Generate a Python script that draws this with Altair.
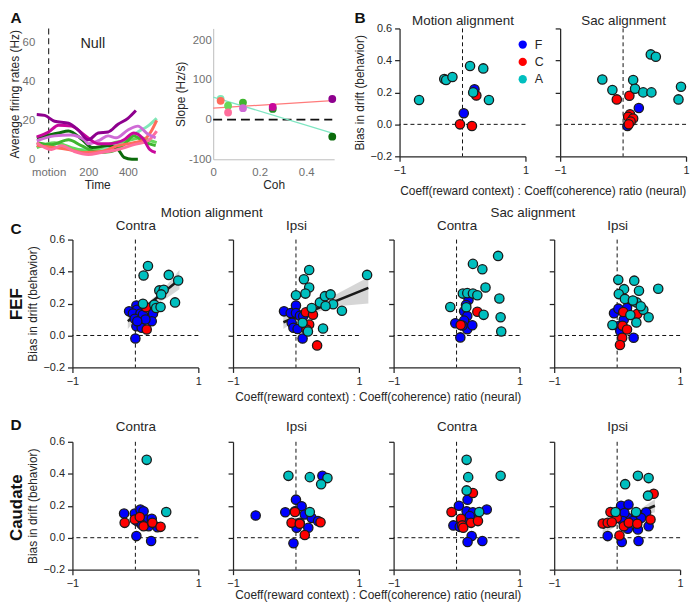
import altair as alt
import pandas as pd

FONT = "Liberation Sans"
INK = "#262626"
LBL_GRAY = "#6f6f6f"
BLUE, RED, CYAN = "#0000ff", "#ff0000", "#00bfbf"
GROUPS = ["F", "C", "A"]
GROUP_COLORS = [BLUE, RED, CYAN]
XLABEL = "Coeff(reward context) : Coeff(coherence) ratio (neural)"
YLABEL = "Bias in drift (behavior)"

PW, PH, SP = 127, 129, 35

# ---------------- Panel A : firing-rate traces (Null) ----------------
TS_KEYS = ["g1", "g2", "g3", "g5", "p1", "p2", "p3", "p4", "p5"]
TS_G1_T = [-60, 50, 150, 250, 350, 400, 450, 500, 545]
TS_G1_V = [7, 6, 5, 5, 8, 10, 14, 17, 21]
TS_G2_T = [-60, 30, 115, 200, 265, 330, 400, 465, 515, 545]
TS_G2_V = [6, 8.5, 6, 4, 6, 8.5, 9.5, 11, 9.5, 8.5]
TS_G3_T = [-60, 15, 100, 165, 250, 315, 380, 430, 480, 540]
TS_G3_V = [8.5, 7.5, 10, 7, 3.5, 4, 7.5, 12, 9, 7]
TS_G5_T = [-60, 50, 100, 170, 220, 300, 350, 380, 420, 450]
TS_G5_V = [11, 13.5, 14.5, 10, 6, 7, 5, 1, 0, 0]
TS_P1_T = [-60, 30, 100, 180, 265, 350, 430, 480, 515, 545]
TS_P1_V = [7, 6, 5, 3.5, 4, 7, 8.5, 10, 14, 20]
TS_P2_T = [-60, 15, 65, 130, 200, 265, 350, 430, 500, 545]
TS_P2_V = [8.5, 5, 7, 4, 2.5, 3.5, 5, 7.5, 9.5, 14.5]
TS_P3_T = [-60, 30, 110, 180, 200, 260, 300, 340, 400, 450, 500, 540]
TS_P3_V = [9.5, 12, 12.5, 10, 8, 10, 12, 11, 15, 17, 13, 11]
TS_P4_T = [-60, 0, 50, 115, 180, 250, 310, 380, 430, 480, 510, 540]
TS_P4_V = [11.5, 14, 17.5, 17, 12.5, 8, 8, 10, 13.5, 10, 5, 3.5]
TS_P5_T = [-60, -20, 30, 100, 150, 200, 250, 300, 350, 400, 440]
TS_P5_V = [23, 22.5, 19.5, 18.5, 15, 10, 13.5, 14, 18, 21, 25]

COH_KEYS = ["g1", "g2", "g3", "g4", "g5", "p1", "p2", "p3", "p4", "p5"]
COH_COLORS = ["#80e8b8", "#66d95a", "#3fb52f", "#238c23", "#0b6b0b",
              "#ff6b5b", "#ff6e9c", "#cf6bd6", "#c8079b", "#8e008e"]

# ---------------- Panel A : slope vs coherence ----------------
SLOPE_COH = [0.032, 0.032, 0.064, 0.064, 0.128, 0.128, 0.256, 0.256, 0.512, 0.512]
SLOPE_VAL = [52, 47.5, 35, 18, 43, 29, 27, 32, 52, -43]
SLOPE_KEY = ["g1", "p1", "g2", "p2", "g3", "p3", "g4", "p4", "p5", "g5"]
PFIT_X, PFIT_Y = [0.0, 0.512], [29, 48]
GFIT_X, GFIT_Y = [0.0, 0.512], [57, -34]

# ---------------- Panel B ----------------
B_MOT_X = [0.19, 0.02, 0.22, -0.04, 0.15, -0.69, -0.29, -0.26, -0.16, 0.12, 0.33, 0.42, 0.17]
B_MOT_Y = [0.219, 0.069, 0.18, 0.0, -0.01, 0.152, 0.283, 0.277, 0.296, 0.365, 0.35, 0.152, 0.2]
B_MOT_G = list("FFCCCAAAAAAAA")
B_SAC_X = [0.25, 0.07, -0.10, 0.10, 0.11, 0.08, 0.16, 0.12, 0.09,
           -0.33, -0.17, 0.16, 0.19, 0.32, 0.45, 0.44, 0.52, 0.92, 0.88]
B_SAC_Y = [0.102, -0.01, 0.156, 0.179, 0.0625, 0.048, 0.037, 0.017, 0.0,
           0.281, 0.215, 0.277, 0.223, 0.2, 0.2, 0.4375, 0.423, 0.235, 0.156]
B_SAC_G = list("FFCCCCCCCAAAAAAAAAA")

# ---------------- Panel C (FEF) ----------------
C1_X = [-0.10, 0.016, 0.026, -0.04, 0.08, -0.01, 0.12, 0.28, 0.26, 0.016, 0.10, 0.0, 0.16, 0.03,
        0.17, 0.18,
        0.20, 0.13, 0.53, 0.68, 0.38, 0.45, 0.41, 0.63, 0.12, 0.30, 0.33, 0.40]
C1_Y = [0.151, 0.188, 0.161, 0.137, 0.137, 0.104, 0.13, 0.137, 0.089, 0.058, 0.048, -0.019, 0.10, 0.089,
        0.176, 0.037,
        0.435, 0.375, 0.379, 0.344, 0.282, 0.286, 0.257, 0.207, 0.199, 0.193, 0.172, 0.178]
C1_G = list("FFFFFFFFFFFFFF" "CC" "AAAAAAAAAAAA")
C1_REG_X, C1_REG_Y = [-0.12, 0.70], [0.089, 0.350]
C1_BAND_X = [-0.12, 0.05, 0.2, 0.35, 0.5, 0.7]
C1_BAND_LO = [0.04, 0.115, 0.17, 0.2, 0.235, 0.29]
C1_BAND_HI = [0.135, 0.17, 0.21, 0.255, 0.315, 0.41]

C2_X = [-0.19, -0.084, 0.0, 0.0, 0.063, -0.068, -0.04, 0.026, 0.105, 0.115,
        0.157, 0.27, 0.21, 0.168, 0.336,
        0.21, 0.126, 0.21, 0.15, 0.0, 0.38, 0.46, 0.55, 0.59, 0.73, 0.25, 0.105, 0.19, 0.43, 1.13, 0.47]
C2_Y = [0.151, 0.141, 0.188, 0.141, 0.124, 0.079, 0.048, 0.041, -0.019, 0.12,
        0.145, 0.13, 0.068, 0.037, -0.062,
        0.41, 0.352, 0.30, 0.262, 0.252, 0.207, 0.246, 0.257, 0.195, 0.155, 0.172, 0.079, 0.025, 0.044, 0.379, 0.184]
C2_G = list("FFFFFFFFFF" "CCCCC" "AAAAAAAAAAAAAAAA")
C2_REG_X, C2_REG_Y = [-0.2, 1.15], [0.083, 0.298]
C2_BAND_X = [-0.2, 0.0, 0.2, 0.4, 0.7, 1.15]
C2_BAND_LO = [0.04, 0.095, 0.13, 0.155, 0.185, 0.2]
C2_BAND_HI = [0.125, 0.135, 0.165, 0.205, 0.27, 0.365]

C3_X = [0.19, 0.12, 0.17, -0.02, 0.12, 0.17, 0.25, 0.06, 0.094, 0.15,
        0.33, 0.065,
        0.66, 0.26, 0.41, 0.46, 0.10, 0.17, 0.26, 0.33, -0.1, 0.155, 0.68, 0.43, 0.70, 0.71]
C3_Y = [0.222, 0.152, 0.122, 0.077, 0.093, 0.039, 0.064, -0.012, 0.062, 0.19,
        0.148, 0.065,
        0.498, 0.448, 0.414, 0.30, 0.262, 0.265, 0.262, 0.252, 0.178, 0.177, 0.231, 0.129, 0.114, 0.025]
C3_G = list("FFFFFFFFFF" "CC" "AAAAAAAAAAAAAA")

C4_X = [-0.05, 0.02, 0.245, 0.105, 0.016, 0.05, 0.262, 0.157,
        0.097, 0.32, 0.085, 0.157, 0.08, 0.045,
        0.018, 0.272, 0.653, 0.11, 0.347, 0.026, 0.123, 0.31, 0.25, 0.416, 0.50, 0.305, -0.075, 0.21, 0.375]
C4_Y = [0.139, 0.168, 0.215, 0.099, 0.058, 0.027, -0.014, 0.172,
        0.147, 0.135, 0.061, 0.037, -0.014, -0.06,
        0.348, 0.343, 0.292, 0.29, 0.28, 0.259, 0.229, 0.207, 0.219, 0.161, 0.114, 0.081, 0.066, 0.128, 0.183]
C4_G = list("FFFFFFFF" "CCCCCC" "AAAAAAAAAAAAAAA")

# ---------------- Panel D (Caudate) ----------------
D1_X = [-0.18, -0.01, 0.08, 0.13, 0.18, 0.26, 0.21, 0.35, 0.026, 0.016, 0.25, 0.10,
        -0.17, -0.01, 0.13, 0.27, 0.40, 0.07,
        0.18, 0.49]
D1_Y = [0.151, 0.151, 0.176, 0.166, 0.114, 0.118, 0.072, 0.066, 0.104, 0.01, -0.021, 0.083,
        0.093, 0.114, 0.072, 0.093, 0.068, 0.13,
        0.487, 0.161]
D1_G = list("FFFFFFFFFFFF" "CCCCCC" "AA")

D2_X = [0.42, -0.64, -0.17, 0.0, -0.016, 0.09, 0.14, 0.25, 0.06, 0.01, 0.196, 0.35, -0.04,
        -0.016, -0.07, 0.06, 0.14, 0.39,
        -0.12, 0.22, 0.50, 0.40, 0.22]
D2_Y = [0.387, 0.139, 0.159, 0.238, 0.166, 0.197, 0.145, 0.124, 0.093, 0.062, 0.062, 0.104, -0.035,
        0.161, 0.093, 0.087, 0.017, 0.097,
        0.387, 0.379, 0.373, 0.335, 0.161]
D2_G = list("FFFFFFFFFFFFF" "CCCCC" "AAAAA")

D3_X = [0.175, 0.037, 0.16, 0.48, 0.26, -0.05, 0.21, 0.13, 0.24, 0.175, 0.41, 0.05,
        0.26, -0.08, 0.07, 0.09, 0.23, 0.34, 0.106,
        0.16, 0.185, 0.70, 0.16, 0.36]
D3_Y = [0.238, 0.2, 0.166, 0.176, 0.159, 0.077, 0.135, 0.097, 0.01, -0.027, -0.021, 0.068,
        0.28, 0.161, 0.118, 0.077, 0.093, 0.104, 0.062,
        0.487, 0.379, 0.387, 0.296, 0.161]
D3_G = list("FFFFFFFFFFFF" "CCCCCCC" "AAAAA")

D4_X = [0.063, 0.18, -0.15, 0.074, 0.34, 0.50, 0.46, 0.38, 0.17, 0.116, 0.25, 0.33, 0.17, 0.09,
        0.58, -0.106, -0.005, -0.23, -0.15, -0.085, 0.106, 0.185, 0.32, 0.53, 0.037,
        0.127, 0.33, 0.50, 0.49, -0.026, 0.30]
D4_Y = [0.2, 0.207, 0.01, -0.027, -0.021, 0.072, 0.159, 0.124, 0.124, 0.155, 0.104, 0.052, 0.056, 0.104,
        0.275, 0.161, 0.124, 0.089, 0.093, 0.097, 0.072, 0.093, 0.087, 0.114, 0.014,
        0.335, 0.387, 0.373, 0.263, 0.161, 0.161]
D4_G = list("FFFFFFFFFFFFFF" "CCCCCCCCCCC" "AAAAAA")
D4_REG_X, D4_REG_Y = [-0.23, 0.6], [0.062, 0.2]
D4_BAND_X = [-0.23, 0.1, 0.35, 0.6]
D4_BAND_LO = [0.02, 0.1, 0.13, 0.16]
D4_BAND_HI = [0.1, 0.135, 0.175, 0.24]


def indep(c):
    return c.resolve_scale(color="independent")


def hc(*charts, spacing):
    return indep(alt.hconcat(*charts, spacing=spacing, bounds="flush"))


def placed(text, tx, ty, size=13.5, bold=False, angle=0, baseline="alphabetic", align="center"):
    """Axis-title options that put a text at a fixed spot relative to the axis."""
    return dict(title=text, titleX=tx, titleY=ty, titleAngle=angle, titleAlign=align,
                titleBaseline=baseline, titleFont=FONT, titleFontSize=size,
                titleFontWeight="bold" if bold else "normal", titleColor="#111111" if bold else INK)


def sc_axis(values, fmt, labels=True, **extra):
    kw = dict(values=values, format=fmt, labels=labels, grid=False, labelFlush=False,
              domainColor=INK, domainWidth=1.25, tickColor=INK, tickWidth=1.25, tickSize=5,
              labelFont=FONT, labelFontSize=11, labelColor=INK, labelPadding=3,
              titleFont=FONT, titleFontSize=12, titleFontWeight="normal", titleColor=INK)
    kw.update(extra)
    if "title" not in kw:
        kw["title"] = None
    return alt.Axis(**kw)


def scatter_panel(xs, ys, gs, top_text, top_y, ytext=None, first=False, legend=False,
                  reg=None, band=None, top_baseline="alphabetic"):
    xsc = alt.Scale(domain=[-1, 1], nice=False, zero=False)
    ysc = alt.Scale(domain=[-0.2, 0.6], nice=False, zero=False)
    xax = sc_axis([-1, 0, 1], "d", **placed(top_text, PW / 2, -(PH + top_y), baseline=top_baseline))
    if first:
        yax = sc_axis([-0.2, 0.0, 0.2, 0.4, 0.6], ".1f", title=YLABEL, labelPadding=3, titlePadding=4)
    elif ytext is not None:
        yax = sc_axis([-0.2, 0.0, 0.2, 0.4, 0.6], ".1f", labels=False,
                      **placed(ytext[0], ytext[1], ytext[2], size=ytext[3]))
    else:
        yax = sc_axis([-0.2, 0.0, 0.2, 0.4, 0.6], ".1f", labels=False)
    X = lambda f: alt.X(f, type="quantitative", scale=xsc, axis=xax)
    Y = lambda f: alt.Y(f, type="quantitative", scale=ysc, axis=yax)

    layers = []
    if band is not None:
        bdf = pd.DataFrame({"x": band[0], "y": band[1], "y2": band[2]})
        layers.append(alt.Chart(bdf).mark_area(color="#c8c8c8", opacity=0.75).encode(
            x=X("x"), y=Y("y"), y2="y2"))
    zdf = pd.DataFrame({"x": [0.0], "y": [0.0]})
    layers.append(alt.Chart(zdf).mark_rule(color="#111111", strokeWidth=1, strokeDash=[4, 3]).encode(x=X("x")))
    layers.append(alt.Chart(zdf).mark_rule(color="#111111", strokeWidth=1, strokeDash=[4, 3]).encode(y=Y("y")))
    if reg is not None:
        rdf = pd.DataFrame({"x": reg[0], "y": reg[1]})
        layers.append(alt.Chart(rdf).mark_line(color="#1a1a1a", strokeWidth=2.6).encode(x=X("x"), y=Y("y")))
    pdf = pd.DataFrame({"x": xs, "y": ys, "g": gs})
    if legend:
        leg = alt.Legend(orient="none", legendX=118, legendY=10, title=None, symbolType="circle",
                         symbolSize=70, symbolStrokeWidth=0, symbolOpacity=1, labelFont=FONT,
                         labelFontSize=12.5, labelColor=INK, rowPadding=4.5, labelOffset=6, padding=0)
    else:
        leg = None
    layers.append(alt.Chart(pdf).mark_circle(size=88, opacity=1, stroke="#1a1a1a", strokeWidth=1.3).encode(
        x=X("x"), y=Y("y"),
        color=alt.Color("g:N", scale=alt.Scale(domain=GROUPS, range=GROUP_COLORS), legend=leg)))
    return alt.layer(*layers).properties(width=PW, height=PH)


def gap(width, height, xtext=None, ytext=None):
    """Empty cell whose (invisible) axes carry panel letters and row labels."""
    df = pd.DataFrame({"v": [0.0]})
    plain = dict(labels=False, ticks=False, domain=False, grid=False)
    xax = alt.Axis(**plain, **xtext) if xtext is not None else None
    yax = alt.Axis(**plain, **ytext) if ytext is not None else None
    return alt.Chart(df).mark_point(opacity=0).encode(
        x=alt.X("v:Q", axis=xax), y=alt.Y("v:Q", axis=yax)
    ).properties(width=width, height=height)


# ---------------- build Panel A ----------------
ts = {"g1": (TS_G1_T, TS_G1_V), "g2": (TS_G2_T, TS_G2_V), "g3": (TS_G3_T, TS_G3_V),
      "g5": (TS_G5_T, TS_G5_V), "p1": (TS_P1_T, TS_P1_V), "p2": (TS_P2_T, TS_P2_V),
      "p3": (TS_P3_T, TS_P3_V), "p4": (TS_P4_T, TS_P4_V), "p5": (TS_P5_T, TS_P5_V)}
rows = []
for k in TS_KEYS:
    for t, v in zip(*ts[k]):
        rows.append({"s": k, "t": t, "hz": v})
ts_df = pd.DataFrame(rows)

a_lbl = dict(labelFont=FONT, labelFontSize=11.5, labelColor=LBL_GRAY, titleFont=FONT, titleFontSize=12,
             titleFontWeight="normal", titleColor=INK, grid=False, labelFlush=False)
ax_t = alt.Axis(values=[0, 200, 400], labelExpr="datum.value == 0 ? 'motion' : datum.label",
                title="Time", domain=False, ticks=False, labelPadding=7, titlePadding=2, **a_lbl)
ax_hz = alt.Axis(values=[0, 20, 40, 60], title="Average firing rates (Hz)", domain=False, ticks=False,
                 labelPadding=2, titlePadding=1, **a_lbl)
t_sc = alt.Scale(domain=[-60, 550], nice=False, zero=False)
hz_sc = alt.Scale(domain=[0, 67.1], nice=False, zero=False)

a_rule = alt.Chart(pd.DataFrame({"t": [0]})).mark_rule(color="#333333", strokeWidth=1.2, strokeDash=[6, 4]).encode(
    x=alt.X("t:Q", scale=t_sc, axis=ax_t))
a_lines = alt.Chart(ts_df).mark_line(strokeWidth=3, interpolate="monotone").encode(
    x=alt.X("t:Q", scale=t_sc, axis=ax_t),
    y=alt.Y("hz:Q", scale=hz_sc, axis=ax_hz),
    color=alt.Color("s:N", scale=alt.Scale(domain=COH_KEYS, range=COH_COLORS), legend=None))
a_left = alt.layer(a_rule, a_lines).properties(width=122, height=132)

coh_sc = alt.Scale(domain=[0, 0.52], nice=False, zero=False)
sl_sc = alt.Scale(domain=[-100, 230], nice=False, zero=False)
ax_coh = alt.Axis(values=[0, 0.2, 0.4], labelExpr="datum.value == 0 ? '0' : format(datum.value, '.1f')",
                  title="Coh", domain=True, domainColor="#bdbdbd", domainWidth=1, ticks=False,
                  labelPadding=7, titlePadding=2, **a_lbl)
ax_sl = alt.Axis(values=[-100, 0, 100, 200], labelExpr="'' + datum.value", title="Slope (Hz/s)",
                 domain=True, domainColor="#bdbdbd", domainWidth=1, ticks=False,
                 labelPadding=2, titlePadding=1, **a_lbl)
CX = lambda f: alt.X(f, type="quantitative", scale=coh_sc, axis=ax_coh)
CY = lambda f: alt.Y(f, type="quantitative", scale=sl_sc, axis=ax_sl)

zero_df = pd.DataFrame({"coh": [0.0], "coh2": [0.512], "slope": [0.0]})
r_zero = alt.Chart(zero_df).mark_rule(color="#111111", strokeWidth=1.6, strokeDash=[9, 5]).encode(
    x=CX("coh"), x2="coh2", y=CY("slope"))
r_pfit = alt.Chart(pd.DataFrame({"coh": PFIT_X, "slope": PFIT_Y})).mark_line(
    color="#ff7b7b", strokeWidth=1.3).encode(x=CX("coh"), y=CY("slope"))
r_gfit = alt.Chart(pd.DataFrame({"coh": GFIT_X, "slope": GFIT_Y})).mark_line(
    color="#7fe6c2", strokeWidth=1.3).encode(x=CX("coh"), y=CY("slope"))
r_pts = alt.Chart(pd.DataFrame({"coh": SLOPE_COH, "slope": SLOPE_VAL, "k": SLOPE_KEY})).mark_circle(
    size=62, opacity=1).encode(
    x=CX("coh"), y=CY("slope"),
    color=alt.Color("k:N", scale=alt.Scale(domain=COH_KEYS, range=COH_COLORS), legend=None))
a_right = alt.layer(r_zero, r_gfit, r_pfit, r_pts).properties(width=122, height=132)

gap_a = gap(56, PH, ytext=placed("Null", -66, 19, size=14.5))

# ---------------- build Panel B ----------------
b_mot = scatter_panel(B_MOT_X, B_MOT_Y, B_MOT_G, "Motion alignment", 15, first=True, legend=True,
                      top_baseline="top")
b_sac = scatter_panel(B_SAC_X, B_SAC_Y, B_SAC_G, "Sac alignment", 15,
                      ytext=(XLABEL, -17.5, 168, 12), top_baseline="top")
gap_b = gap(66, PH, xtext=placed("B", 20, -(PH + 18), size=15.5, bold=True, align="left", baseline="top"))
# letter "A" sits far to the left of this spacer (x = 8 px in the figure)
gap_mid = gap(SP, PH, xtext=placed("A", -520, -(PH + 18), size=15.5, bold=True, align="left", baseline="top"))

row1 = hc(a_left, gap_a, a_right, gap_b, b_mot, gap_mid, b_sac, spacing=0)

# ---------------- build Panel C ----------------
c1 = scatter_panel(C1_X, C1_Y, C1_G, "Contra", 10, first=True,
                   reg=(C1_REG_X, C1_REG_Y), band=(C1_BAND_X, C1_BAND_LO, C1_BAND_HI))
c2 = scatter_panel(C2_X, C2_Y, C2_G, "Ipsi", 10, ytext=("Motion alignment", -22, -23, 13.5),
                   reg=(C2_REG_X, C2_REG_Y), band=(C2_BAND_X, C2_BAND_LO, C2_BAND_HI))
c3 = scatter_panel(C3_X, C3_Y, C3_G, "Contra", 10, ytext=(XLABEL, -16, 162, 12))
c4 = scatter_panel(C4_X, C4_Y, C4_G, "Ipsi", 10, ytext=("Sac alignment", -22, -23, 13.5))
gap_c = gap(1, PH,
            xtext=placed("C", -27, -(PH + 6), size=15.5, bold=True, align="left"),
            ytext=placed("FEF", -20, PH / 2, size=17, bold=True, angle=270, baseline="middle"))
row_c = hc(gap_c, c1, c2, c3, c4, spacing=SP)

# ---------------- build Panel D ----------------
d1 = scatter_panel(D1_X, D1_Y, D1_G, "Contra", 11, first=True)
d2 = scatter_panel(D2_X, D2_Y, D2_G, "Ipsi", 11)
d3 = scatter_panel(D3_X, D3_Y, D3_G, "Contra", 11, ytext=(XLABEL, -16, 158, 12))
d4 = scatter_panel(D4_X, D4_Y, D4_G, "Ipsi", 11, reg=(D4_REG_X, D4_REG_Y),
                   band=(D4_BAND_X, D4_BAND_LO, D4_BAND_HI))
gap_d = gap(1, PH,
            xtext=placed("D", -27, -(PH + 12), size=15.5, bold=True, align="left"),
            ytext=placed("Caudate", -20, 66, size=17, bold=True, angle=270, baseline="middle"))
row_d = hc(gap_d, d1, d2, d3, d4, spacing=SP)

rows_cd = indep(alt.vconcat(row_c, row_d, spacing=16))
chart = indep(alt.vconcat(row1, rows_cd, spacing=9)).properties(
    padding=0, background="white"
).configure(font=FONT).configure_view(strokeWidth=0)

chart.save("out.html", embed_options={"renderer": "svg", "actions": False})
